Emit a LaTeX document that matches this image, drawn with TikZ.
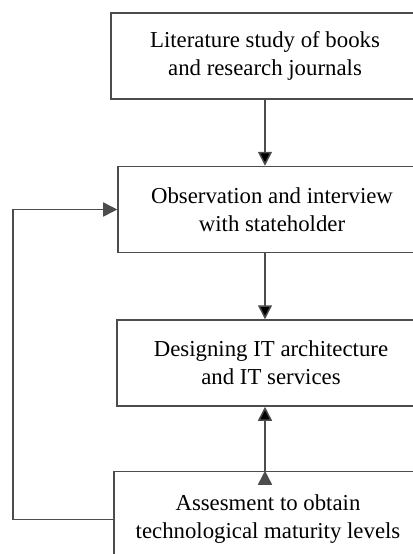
\documentclass[tikz,border=0pt]{standalone}
\usepackage{fontspec}
\setmainfont{Liberation Serif}
\usetikzlibrary{arrows.meta}
\tikzset{stage/.style={draw=black!70,line width=0.75pt,fill=white,
                       minimum width=154pt,minimum height=43pt,align=center,
                       font=\fontsize{11.4pt}{14pt}\selectfont}}

\begin{document}
\begin{tikzpicture}[x=0.5pt,y=-0.5pt,>={Triangle[length=7pt,width=7pt]}]
  \useasboundingbox (0,0) rectangle (413,554);

  % The four stages are stacked in one column of a matrix:
  \matrix[row sep=33pt,matrix anchor=lit.center] at (265,56) {
    \node (lit) [stage] {Literature study of books\\and research journals}; \\
    \node (obs) [stage,xshift=3.5pt] {Observation and interview\\with stateholder}; \\
    \node (design) [stage,xshift=3pt] {Designing IT architecture\\and IT services}; \\[-1pt]
    \node (assess) [stage,xshift=1.5pt,minimum height=48pt] {Assesment to obtain\\technological maturity levels}; \\
  };
  \coordinate (loop) at (13,0);

  % Connectors between the stages, plus the feedback loop on the left:
  \path[->,draw=black!70,line width=0.75pt]
    (lit.south) edge (lit.south |- obs.north)
    (lit.south |- obs.south) edge (lit.south |- design.north)
    (lit.south |- assess.north) edge (lit.south |- design.south)
    ;
  \draw[->,draw=black!70,line width=0.75pt]
    (assess.west) -- (assess.west -| loop) |- (obs.west);
\end{tikzpicture}
\end{document}
